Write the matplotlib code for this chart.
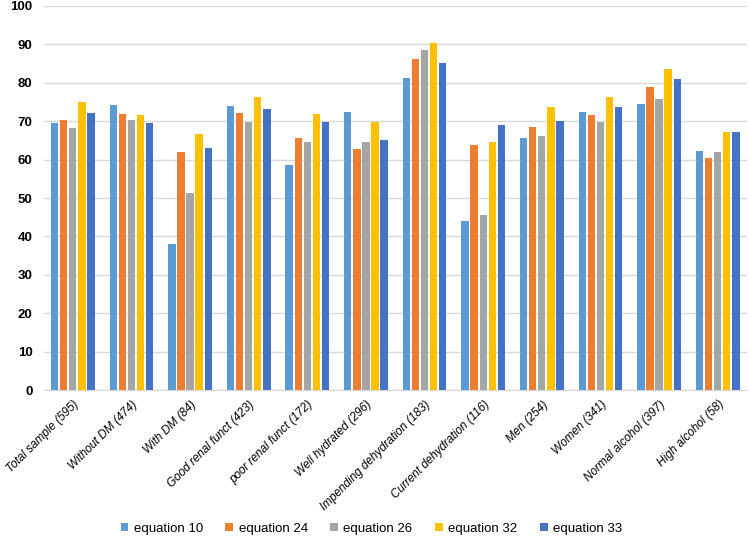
import numpy as np
import matplotlib.pyplot as plt

plt.rcParams['font.family'] = ['Liberation Sans', 'DejaVu Sans']

# categories and series
groups = ['Total sample (595)', 'Without DM (474)', 'With DM (84)', 'Good renal funct (423)',
          'poor renal funct (172)', 'Well hydrated (296)', 'Impending dehydration (183)',
          'Current dehydration (116)', 'Men (254)', 'Women (341)', 'Normal alcohol (397)',
          'High alcohol (58)']
eq10 = [69.5, 74.3, 38.0, 74.0, 58.7, 72.3, 81.3, 44.0, 65.7, 72.5, 74.6, 62.2]
eq24 = [70.3, 72.0, 62.0, 72.1, 65.6, 62.8, 86.3, 63.7, 68.4, 71.6, 78.8, 60.3]
eq26 = [68.2, 70.3, 51.2, 69.7, 64.5, 64.5, 88.5, 45.6, 66.1, 69.7, 75.9, 62.0]
eq32 = [75.0, 71.5, 66.6, 76.2, 72.0, 69.9, 90.3, 64.7, 73.6, 76.2, 83.7, 67.3]
eq33 = [72.1, 69.6, 63.0, 73.1, 69.7, 65.1, 85.1, 69.0, 70.1, 73.6, 81.0, 67.1]
series = [eq10, eq24, eq26, eq32, eq33]
names = ['equation 10', 'equation 24', 'equation 26', 'equation 32', 'equation 33']
colors = ['#5B9BD5', '#ED7D31', '#A5A5A5', '#FFC000', '#4472C4']

fig = plt.figure(figsize=(7.5, 5.41), dpi=100)
ax = fig.add_axes([0.058, 0.279, 0.938, 0.71])

x = np.arange(len(groups))
w = 0.125
step = 0.155
for i, (vals, nm, c) in enumerate(zip(series, names, colors)):
    ax.bar(x + (i - 2) * step, vals, w, color=c, label=nm, zorder=3)

ax.set_ylim(0, 100)
ax.set_xlim(-0.5, len(groups) - 0.5)
ax.set_yticks(range(0, 101, 10))
ax.yaxis.grid(True, color='#D9D9D9', linewidth=1, zorder=0)
for s in ['top', 'right', 'left']:
    ax.spines[s].set_visible(False)
ax.spines['bottom'].set_color('#D9D9D9')
ax.tick_params(axis='y', length=0, pad=8)
ax.tick_params(axis='x', length=0, pad=6)
for lab in ax.get_yticklabels():
    lab.set_fontweight('bold')
    lab.set_fontsize(9.5)
ax.set_xticks(x)
ax.set_xticklabels(groups, rotation=45, ha='right', rotation_mode='anchor',
                   fontsize=8.5, style='italic')

fig.legend(loc='lower center', ncol=5, frameon=False, bbox_to_anchor=(0.495, -0.01),
           fontsize=9.5, handlelength=0.6, handleheight=0.6, handletextpad=0.4,
           columnspacing=1.7)

plt.savefig('out.png', dpi=100)
